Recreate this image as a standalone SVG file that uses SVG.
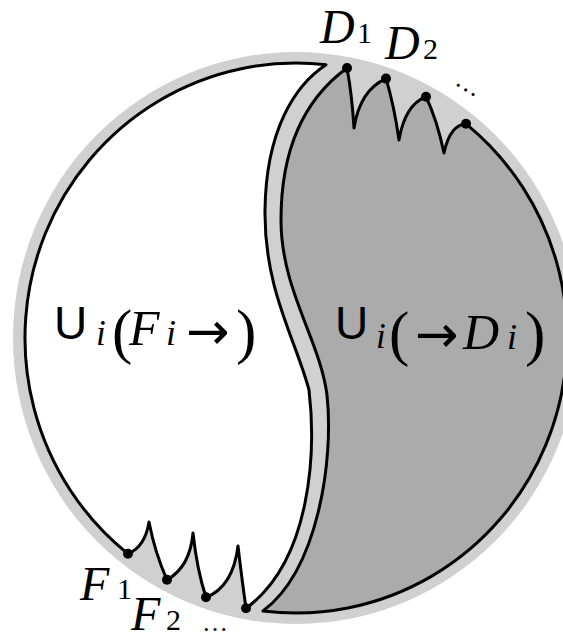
<svg xmlns="http://www.w3.org/2000/svg" width="563" height="633" viewBox="0 0 563 633">
<style>
.ln{stroke:#000;stroke-width:3;stroke-linejoin:round;stroke-linecap:round}
.it{font-family:"Liberation Serif",serif;font-style:italic;fill:#000}
.rm{font-family:"Liberation Serif",serif;fill:#000}
.un{font-family:"Liberation Sans",sans-serif;fill:#000}
.ar{font-family:"DejaVu Sans",sans-serif;fill:#000}
.dot{fill:#000}
</style>
<rect width="563" height="633" fill="#fff"/>
<g id="band">
<ellipse cx="296" cy="338" rx="283" ry="286" fill="#d0d0d0"/>
</g>
<g id="region-left">
<path class="ln" fill="#fff" d="M326,64.7 A271,275 0 0 0 128,553.8 Q145,547 149,522 Q155,553 167,579.8 Q190,567 193,533 Q197,570 206,597.3 Q233,587 238,546 Q242,580 246,608.3 C312,560 316,450 309,390 C296,340 264,290 265,210 C266,130 295,85 326,64.7 Z"/>
</g>
<g id="region-right">
<path class="ln" fill="#ababab" d="M347,68 Q352,95 354,128 Q360,90 386,78.6 Q394,105 399,140 Q405,105 426,96.7 Q437,120 444,153 Q450,125 466,123.8 A271,275 0 0 1 263,611 C318,570 334,460 327,395 C320,340 281,290 281,220 C281,140 310,95 347,68 Z"/>
</g>
<g id="connectors"></g>
<g id="dots">
<circle class="dot" cx="347" cy="68" r="5"/>
<circle class="dot" cx="386" cy="78.6" r="5"/>
<circle class="dot" cx="426" cy="96.7" r="5"/>
<circle class="dot" cx="466" cy="123.8" r="5"/>
<circle class="dot" cx="128" cy="553.8" r="5"/>
<circle class="dot" cx="167" cy="579.8" r="5"/>
<circle class="dot" cx="206" cy="597.3" r="5"/>
<circle class="dot" cx="246" cy="608.3" r="5"/>
</g>
<g id="label-left">
<text><tspan class="un" x="54" y="339" font-size="46">U</tspan><tspan class="it" x="96" y="345" font-size="35">i</tspan><tspan class="rm" x="112" y="352" font-size="61">(</tspan><tspan class="it" x="129" y="345" font-size="50">F</tspan><tspan class="it" x="166" y="345" font-size="36">i</tspan><tspan class="ar" x="186" y="349" font-size="52">→</tspan><tspan class="rm" x="236" y="352" font-size="61">)</tspan></text>
</g>
<g id="label-right">
<text><tspan class="un" x="335" y="339" font-size="46">U</tspan><tspan class="it" x="376" y="348" font-size="35">i</tspan><tspan class="rm" x="389" y="354" font-size="61">(</tspan><tspan class="ar" x="415" y="352" font-size="52">→</tspan><tspan class="it" x="463" y="349" font-size="50">D</tspan><tspan class="it" x="507" y="349" font-size="36">i</tspan><tspan class="rm" x="525" y="354" font-size="61">)</tspan></text>
</g>
<g id="label-D">
<text><tspan class="it" x="320" y="43" font-size="48">D</tspan><tspan class="rm" x="357" y="43" font-size="30">1</tspan></text>
<text><tspan class="it" x="385" y="59" font-size="48">D</tspan><tspan class="rm" x="423" y="59" font-size="30">2</tspan></text>
<text class="rm" font-size="26" transform="translate(454,84) rotate(32)">…</text>
</g>
<g id="label-F">
<text><tspan class="it" x="80" y="600" font-size="48">F</tspan><tspan class="rm" x="117" y="599" font-size="30">1</tspan></text>
<text><tspan class="it" x="131" y="630" font-size="48">F</tspan><tspan class="rm" x="166" y="630" font-size="30">2</tspan></text>
<text class="rm" font-size="26" x="202" y="631">…</text>
</g>
</svg>
